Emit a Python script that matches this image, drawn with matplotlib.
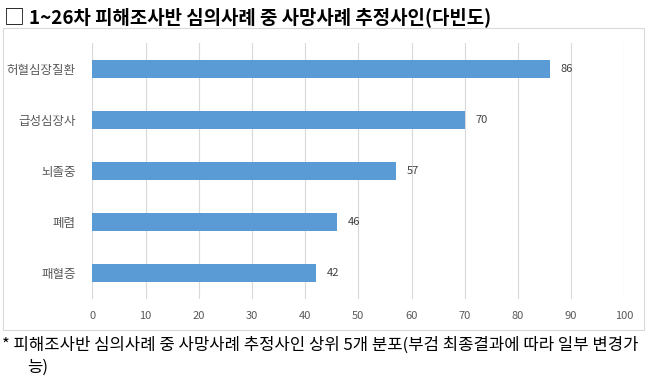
import matplotlib
matplotlib.use("Agg")
import matplotlib.pyplot as plt
from matplotlib.patches import Rectangle

plt.rcParams['font.family'] = ['Noto Sans CJK KR', 'DejaVu Sans']

categories = ["허혈심장질환", "급성심장사", "뇌졸중", "폐렴", "패혈증"]
values = [86, 70, 57, 46, 42]
xticks = [0, 10, 20, 30, 40, 50, 60, 70, 80, 90, 100]
title = "1~26차 피해조사반 심의사례 중 사망사례 추정사인(다빈도)"
note1 = "* 피해조사반 심의사례 중 사망사례 추정사인 상위 5개 분포(부검 최종결과에 따라 일부 변경가"
note2 = "능)"

W, H = 650, 377
fig = plt.figure(figsize=(W / 100, H / 100), dpi=100)

# outer chart frame
fig.add_artist(Rectangle((3 / W, 1 - 330 / H), (644 - 3) / W, (330 - 28) / H,
                         transform=fig.transFigure, fill=False,
                         edgecolor="#D9D9D9", linewidth=0.8))

ax = fig.add_axes([92.3 / W, 1 - 298.5 / H, (624.3 - 92.3) / W, (298.5 - 43.5) / H])
ypos = list(range(len(categories)))
ax.barh(ypos, values, height=0.35, color="#5B9BD5", zorder=3)
ax.set_ylim(len(categories) - 0.5, -0.5)
ax.set_xlim(0, 100)
ax.set_xticks(xticks)
ax.set_xticklabels([str(t) for t in xticks], fontsize=8, color="#595959")
ax.set_yticks(ypos)
ax.set_yticklabels(categories, fontsize=9, color="#595959")
ax.tick_params(axis="both", length=0)
ax.tick_params(axis="y", pad=12)
ax.tick_params(axis="x", pad=9)
ax.grid(axis="x", color="#D9D9D9", linewidth=0.8, zorder=0)
for s in ax.spines.values():
    s.set_visible(False)
for y, v in zip(ypos, values):
    ax.annotate(str(v), (v, y), xytext=(8, 0), textcoords="offset points",
                va="center", ha="left", fontsize=8, color="#404040")

fig.text(4 / W, 1 - 17 / H, "□", fontsize=15, va="center", ha="left", color="black")
fig.text(29 / W, 1 - 17 / H, title, fontsize=13.6, fontweight="bold",
         va="center", ha="left", color="black")
fig.text(2 / W, 1 - 345 / H, note1, fontsize=12, va="center", ha="left", color="black")
fig.text(27 / W, 1 - 367 / H, note2, fontsize=12, va="center", ha="left", color="black")

fig.savefig("out.png", dpi=100)
